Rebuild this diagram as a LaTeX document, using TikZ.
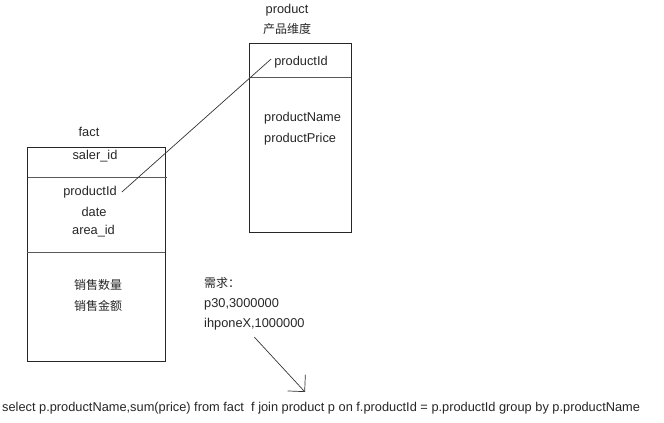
\documentclass[tikz,border=0pt]{standalone}
\usepackage{fontspec}
\setmainfont{Liberation Sans}
\newfontfamily\cjk{Noto Sans CJK SC}
\usetikzlibrary{arrows.meta}
\begin{document}
\begin{tikzpicture}[x=1pt,y=-1pt,
  txt/.style={inner sep=0pt,font=\fontsize{12.8}{14}\selectfont,text=black!85},
  ctxt/.style={inner sep=0pt,font=\cjk\fontsize{12}{14}\selectfont,text=black!85},
  tbox/.style={draw=black!85,line width=0.8pt,rectangle,inner sep=0pt},
  divider/.style={draw=black!65,line width=0.8pt},
  link/.style={draw=black!80,line width=0.7pt}]
\useasboundingbox (0,0) rectangle (664,423);
% product table
\node[tbox,minimum width=102pt,minimum height=189pt] (prod) at (300,137.5) {};
\node[txt] (prodname) at (287,10) {product};
\node[ctxt] (prodcn) at (287,29) {产品维度};
\coordinate (pdl) at (249,77);
\coordinate (pdr) at (351,77);
\draw[divider] (pdl) -- (pdr);
\node[txt] (ppid) at (301,62) {productId};
\node[txt,anchor=west] (pname) at (264,118) {productName};
\node[txt,anchor=west] (pprice) at (264,139) {productPrice};
% fact table
\node[tbox,minimum width=138pt,minimum height=214pt] (fact) at (96,254) {};
\node[txt] (factname) at (89,132) {fact};
\coordinate (fd1l) at (28,177);
\coordinate (fd1r) at (167,177);
\coordinate (fd2l) at (27,252);
\coordinate (fd2r) at (165,252);
\draw[divider] (fd1l) -- (fd1r);
\draw[divider] (fd2l) -- (fd2r);
\node[txt] (saler) at (95,156) {saler\_id};
\node[txt] (fpid) at (90,192) {productId};
\node[txt] (fdate) at (94,212) {date};
\node[txt] (farea) at (93.5,231) {area\_id};
\node[ctxt] (fcnt) at (98,285) {销售数量};
\node[ctxt] (famt) at (98,306) {销售金额};
% link between productId fields
\draw[link] ([xshift=5pt]fpid.east) -- ([xshift=-3pt,yshift=3pt]ppid.west);
% requirement
\node[ctxt,anchor=west] (req1) at (204,283) {需求：};
\node[txt,anchor=west] (req2) at (204,304) {p30,3000000};
\node[txt,anchor=west] (req3) at (204,324) {ihponeX,1000000};
% sql
\node[txt,anchor=west] (sql) at (2,408) {select p.productName,sum(price) from fact\ \ f join product p on f.productId = p.productId group by p.productName};
\coordinate (arrowend) at (305,392);
\draw[link,-{Straight Barb[length=12pt,width=24pt,line width=0.7pt]}] ([yshift=-7pt]req3.south) -- (arrowend);
\end{tikzpicture}
\end{document}
